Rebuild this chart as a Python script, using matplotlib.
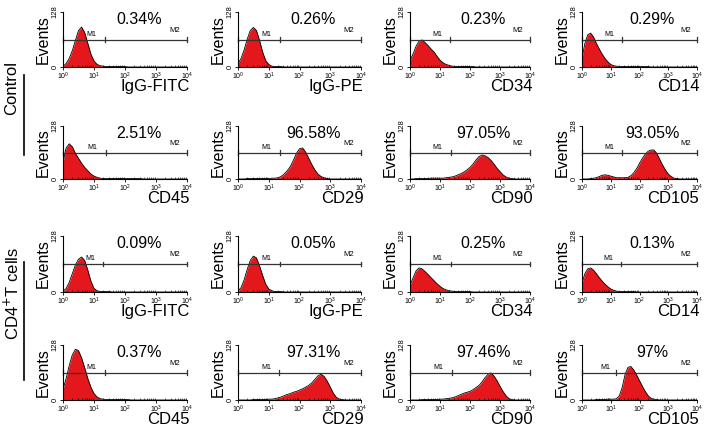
import numpy as np
import matplotlib
matplotlib.use('Agg')
import matplotlib.pyplot as plt
from matplotlib.lines import Line2D
from matplotlib.ticker import LogLocator, NullFormatter

plt.rcParams['font.family'] = ['Liberation Sans', 'DejaVu Sans']

# histogram bins, in decades (10^0 .. 10^4, step 0.1)
decades = np.linspace(0, 4, 41)

# Control group: counts per bin (0..128)
ctrl_igg_fitc = [2, 8, 20, 38, 62, 85, 93, 80, 55, 30, 14, 6, 3, 2, 1, 1, 1, 1, 1, 1, 1,
                 0, 0, 0, 0, 0, 0, 0, 0, 0, 0, 0, 0, 0, 0, 0, 0, 0, 0, 0, 0]
ctrl_igg_pe = [8, 20, 40, 65, 85, 92, 85, 62, 35, 15, 6, 2, 1, 1, 1, 0, 0, 0, 0, 0, 0,
               0, 0, 0, 0, 0, 0, 0, 0, 0, 0, 0, 0, 0, 0, 0, 0, 0, 0, 0, 0]
ctrl_cd34 = [15, 30, 48, 60, 63, 57, 50, 42, 35, 25, 16, 10, 6, 4, 2, 1.5, 1, 1, 1, 1, 1,
             1, 0, 0, 0, 0, 0, 0, 0, 0, 0, 0, 0, 0, 0, 0, 0, 0, 0, 0, 0]
ctrl_cd14 = [20, 55, 75, 79, 70, 55, 42, 30, 20, 12, 6, 3, 2, 1, 1, 1, 1, 1, 1, 1, 1,
             1, 1, 1, 0, 0, 0, 0, 0, 0, 0, 0, 0, 0, 0, 0, 0, 0, 0, 0, 0]
ctrl_cd45 = [40, 75, 85, 78, 62, 50, 38, 28, 20, 12, 7, 4, 2, 1, 1, 1, 1, 1, 1, 1, 1,
             1, 1, 1, 1, 1, 0, 0, 0, 0, 0, 0, 0, 0, 0, 0, 0, 0, 0, 0, 0]
ctrl_cd29 = [0, 0, 0, 1, 1, 1, 1, 1, 1, 1, 1, 2, 2, 3, 6, 12, 20, 30, 45, 62, 73,
             75, 65, 50, 35, 22, 12, 6, 3, 1, 0, 0, 0, 0, 0, 0, 0, 0, 0, 0, 0]
ctrl_cd90 = [0, 0, 1, 1, 1, 1, 1, 2, 2, 2, 2, 2, 3, 4, 5, 7, 10, 13, 17, 22, 28,
             36, 46, 54, 58, 56, 52, 45, 36, 26, 18, 10, 5, 2, 1, 0, 0, 0, 0, 0, 0]
ctrl_cd105 = [0, 0, 0, 1, 2, 3, 6, 9, 10, 9, 7, 5, 3, 3, 3, 3, 4, 8, 15, 25, 38,
              50, 60, 67, 70, 70, 62, 48, 34, 22, 12, 6, 2, 1, 0, 0, 0, 0, 0, 0, 0]

# CD4+ T cells group
cd4_igg_fitc = [2, 8, 22, 42, 62, 75, 80, 72, 50, 25, 8, 3, 1, 1, 1, 1, 0, 0, 0, 0, 0,
                0, 0, 0, 0, 0, 0, 0, 0, 0, 0, 0, 0, 0, 0, 0, 0, 0, 0, 0, 0]
cd4_igg_pe = [2, 10, 28, 52, 72, 82, 78, 60, 38, 18, 7, 3, 1, 1, 1, 0, 0, 0, 0, 0, 0,
              0, 0, 0, 0, 0, 0, 0, 0, 0, 0, 0, 0, 0, 0, 0, 0, 0, 0, 0, 0]
cd4_cd34 = [15, 32, 48, 55, 53, 47, 40, 33, 26, 19, 13, 8, 5, 3, 2, 1, 1, 1, 1, 1, 1,
            0, 0, 0, 0, 0, 0, 0, 0, 0, 0, 0, 0, 0, 0, 0, 0, 0, 0, 0, 0]
cd4_cd14 = [20, 42, 53, 55, 50, 42, 33, 25, 18, 12, 7, 4, 2, 1, 1, 1, 1, 1, 1, 0, 0,
            0, 0, 0, 0, 0, 0, 0, 0, 0, 0, 0, 0, 0, 0, 0, 0, 0, 0, 0, 0]
cd4_cd45 = [25, 50, 80, 105, 118, 115, 98, 75, 50, 30, 15, 7, 3, 2, 1, 1, 1, 1, 1, 1, 1,
            1, 0, 0, 0, 0, 0, 0, 0, 0, 0, 0, 0, 0, 0, 0, 0, 0, 0, 0, 0]
cd4_cd29 = [0, 0, 0, 0, 0, 1, 1, 1, 1, 1, 2, 2, 3, 5, 7, 10, 13, 15, 18, 20, 23,
            26, 30, 34, 40, 48, 56, 60, 55, 44, 30, 16, 6, 2, 1, 0, 0, 0, 0, 0, 0]
cd4_cd90 = [0, 0, 0, 0, 1, 1, 1, 1, 1, 1, 2, 2, 3, 4, 5, 7, 10, 13, 16, 18, 20,
            24, 29, 34, 42, 52, 60, 63, 56, 45, 32, 20, 10, 3, 1, 0, 0, 0, 0, 0, 0]
cd4_cd105 = [0, 0, 0, 0, 0, 1, 1, 1, 1, 2, 2, 2, 3, 10, 30, 60, 76, 78, 70, 58, 45,
             32, 20, 10, 4, 2, 1, 0, 0, 0, 0, 0, 0, 0, 0, 0, 0, 0, 0, 0, 0]

markers = ['IgG-FITC', 'IgG-PE', 'CD34', 'CD14', 'CD45', 'CD29', 'CD90', 'CD105']
pct_ctrl = ['0.34%', '0.26%', '0.23%', '0.29%', '2.51%', '96.58%', '97.05%', '93.05%']
pct_cd4 = ['0.09%', '0.05%', '0.25%', '0.13%', '0.37%', '97.31%', '97.46%', '97%']
# M1/M2 gate boundary, in decades
gate_ctrl = [1.35, 1.35, 1.33, 1.39, 1.39, 1.37, 1.36, 1.39]
gate_cd4 = [1.30, 1.35, 1.35, 1.35, 1.35, 1.34, 1.39, 1.17]

hists_ctrl = [ctrl_igg_fitc, ctrl_igg_pe, ctrl_cd34, ctrl_cd14,
              ctrl_cd45, ctrl_cd29, ctrl_cd90, ctrl_cd105]
hists_cd4 = [cd4_igg_fitc, cd4_igg_pe, cd4_cd34, cd4_cd14,
             cd4_cd45, cd4_cd29, cd4_cd90, cd4_cd105]

W, H = 709, 429
fig = plt.figure(figsize=(W / 100, H / 100), dpi=100)

col_left = [63, 238, 410, 582]
col_w = [124, 123, 120, 115]
row_top = [12, 126, 236, 345]
row_bot = [67, 179, 292, 400]
label_off = -14

red = '#e3171c'
gate_y = 64
x = 10 ** decades

def panel(r, c, hist, pct, gate, marker):
    ax = fig.add_axes([col_left[c] / W, 1 - row_bot[r] / H,
                       col_w[c] / W, (row_bot[r] - row_top[r]) / H])
    ax.fill_between(x, 0, hist, color=red, lw=0)
    ax.plot(x, hist, color='black', lw=0.6)
    ax.set_xscale('log')
    ax.set_xlim(1, 1e4)
    ax.set_ylim(0, 128)
    for s in ['top', 'right']:
        ax.spines[s].set_visible(False)
    for s in ['left', 'bottom']:
        ax.spines[s].set_linewidth(0.8)
    ax.set_yticks([0, 128])
    ax.set_yticklabels(['0', '128'], rotation=90, va='center', fontsize=5.5)
    ax.xaxis.set_major_locator(LogLocator(base=10, numticks=5))
    ax.xaxis.set_minor_locator(LogLocator(base=10, subs=np.arange(2, 10), numticks=10))
    ax.xaxis.set_minor_formatter(NullFormatter())
    ax.tick_params(axis='x', which='major', labelsize=5, length=2.5, width=0.6, pad=0.5)
    ax.tick_params(axis='x', which='minor', length=1.2, width=0.4, direction='in')
    ax.tick_params(axis='y', length=2, width=0.6, pad=1)
    ax.set_ylabel('Events', fontsize=11.5, labelpad=1)
    # gate bars
    g = 10 ** gate
    ax.plot([1, g], [gate_y, gate_y], color='#333333', lw=0.9, clip_on=False)
    ax.plot([g, 1e4], [gate_y, gate_y], color='#333333', lw=0.9, clip_on=False)
    for xc in [1, g, 1e4]:
        ax.plot([xc, xc], [gate_y - 5, gate_y + 5], color='#333333', lw=0.9, clip_on=False)
    ax.text(10 ** (gate * 0.68), gate_y + 4, 'M1', fontsize=5, ha='center', va='bottom')
    ax.text(10 ** 3.6, gate_y + 22, 'M2', fontsize=5.5, ha='center', va='center')
    ax.text(10 ** 2.45, gate_y + 46, pct, fontsize=11.5, ha='center', va='center')
    ax.annotate(marker, xy=(1.02, 0), xycoords='axes fraction', xytext=(0, label_off),
                textcoords='offset points', ha='right', va='center', fontsize=12)

for i in range(8):
    r, c = divmod(i, 4)
    panel(r, c, hists_ctrl[i], pct_ctrl[i], gate_ctrl[i], markers[i])
    panel(r + 2, c, hists_cd4[i], pct_cd4[i], gate_cd4[i], markers[i])

fig.text(12 / W, 1 - 88 / H, 'Control', rotation=90, ha='center', va='center', fontsize=12)
fig.text(12 / W, 1 - 293 / H, 'CD4$^{+}$T cells', rotation=90, ha='center', va='center', fontsize=12)
fig.add_artist(Line2D([24 / W, 24 / W], [1 - 75 / H, 1 - 155 / H], color='black', lw=1.2))
fig.add_artist(Line2D([24 / W, 24 / W], [1 - 262 / H, 1 - 380 / H], color='black', lw=1.2))

fig.savefig('out.png', dpi=100)
plt.close(fig)
